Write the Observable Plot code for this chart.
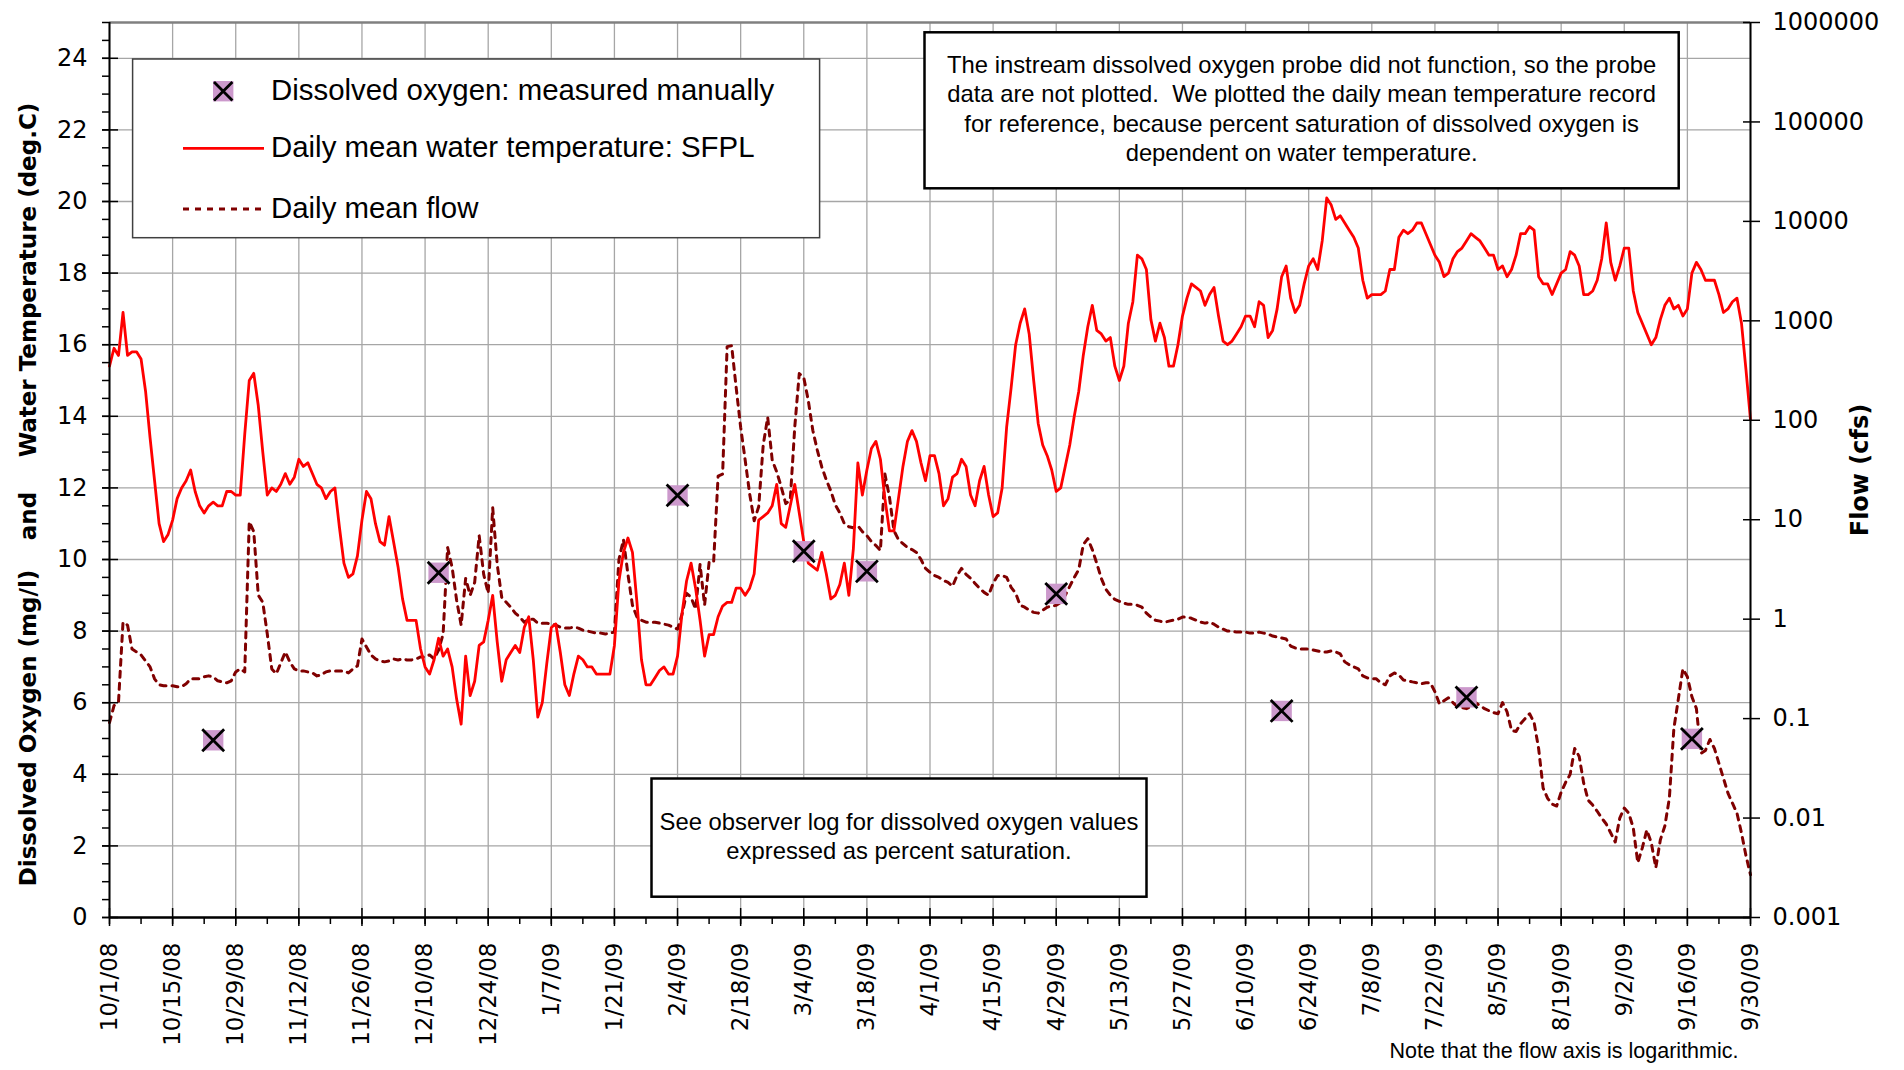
<!DOCTYPE html>
<html><head><meta charset="utf-8">
<script src="https://cdn.jsdelivr.net/npm/d3@7"></script>
<script src="https://cdn.jsdelivr.net/npm/@observablehq/plot@0.6"></script>
<style>
html,body{margin:0;padding:0;background:#fff;}
#chart{position:relative;width:1904px;height:1070px;}
</style></head><body><div id="chart"></div>
<script>
// ---------- data ----------
const startDate = "2008-10-01"; // first daily value
const temperature = [
15.4,15.9,15.7,16.9,15.7,15.8,15.8,15.6,14.7,13.4,
12.2,11.0,10.5,10.7,11.1,11.7,12.0,12.2,12.5,11.9,
11.5,11.3,11.5,11.6,11.5,11.5,11.9,11.9,11.8,11.8,
13.5,15.0,15.2,14.3,13.0,11.8,12.0,11.9,12.1,12.4,
12.1,12.3,12.8,12.6,12.7,12.4,12.1,12.0,11.7,11.9,
12.0,10.9,9.9,9.5,9.6,10.1,11.1,11.9,11.7,11.0,
10.5,10.4,11.2,10.5,9.8,8.9,8.3,8.3,8.3,7.5,
7.0,6.8,7.2,7.8,7.3,7.5,7.0,6.1,5.4,7.3,
6.2,6.6,7.6,7.7,8.3,9.0,7.7,6.6,7.2,7.4,
7.6,7.4,8.1,8.4,7.2,5.6,6.0,7.1,8.1,8.2,
7.4,6.5,6.2,6.8,7.3,7.2,7.0,7.0,6.8,6.8,
6.8,6.8,7.6,9.4,10.2,10.6,10.2,8.8,7.2,6.5,
6.5,6.7,6.9,7.0,6.8,6.8,7.3,8.5,9.4,9.9,
9.2,8.3,7.3,7.9,7.9,8.4,8.7,8.8,8.8,9.2,
9.2,9.0,9.2,9.6,11.1,11.2,11.3,11.5,12.1,11.0,
10.9,11.5,12.1,11.3,10.5,9.9,9.8,9.7,10.2,9.6,
8.9,9.0,9.3,9.9,9.0,10.3,12.7,11.8,12.5,13.1,
13.3,12.8,11.7,10.8,10.8,11.7,12.6,13.3,13.6,13.3,
12.7,12.2,12.9,12.9,12.4,11.5,11.7,12.3,12.4,12.8,
12.6,11.8,11.5,12.2,12.6,11.8,11.2,11.3,12.0,13.7,
14.8,16.0,16.6,17.0,16.3,15.0,13.8,13.2,12.9,12.5,
11.9,12.0,12.6,13.2,14.0,14.7,15.7,16.5,17.1,16.4,
16.3,16.1,16.2,15.4,15.0,15.4,16.6,17.2,18.5,18.4,
18.1,16.7,16.1,16.6,16.2,15.4,15.4,16.0,16.8,17.3,
17.7,17.6,17.5,17.1,17.4,17.6,16.8,16.1,16.0,16.1,
16.3,16.5,16.8,16.8,16.5,17.2,17.1,16.2,16.4,17.0,
17.9,18.2,17.3,16.9,17.1,17.7,18.2,18.4,18.1,18.9,
20.1,19.9,19.5,19.6,19.4,19.2,19.0,18.7,17.8,17.3,
17.4,17.4,17.4,17.5,18.1,18.1,19.0,19.2,19.1,19.2,
19.4,19.4,19.1,18.8,18.5,18.3,17.9,18.0,18.4,18.6,
18.7,18.9,19.1,19.0,18.9,18.7,18.5,18.5,18.1,18.2,
17.9,18.1,18.5,19.1,19.1,19.3,19.2,17.9,17.7,17.7,
17.4,17.7,18.0,18.1,18.6,18.5,18.2,17.4,17.4,17.5,
17.8,18.4,19.4,18.3,17.8,18.2,18.7,18.7,17.5,16.9,
16.6,16.3,16.0,16.2,16.7,17.1,17.3,17.0,17.1,16.8,
17.0,18.0,18.3,18.1,17.8,17.8,17.8,17.4,16.9,17.0,
17.2,17.3,16.6,15.3,13.9];

const flow = [
0.091,0.135,0.148,0.933,0.871,0.50,0.468,0.437,0.38,0.331,
0.251,0.219,0.214,0.214,0.214,0.209,0.209,0.224,0.251,0.251,
0.251,0.263,0.269,0.263,0.24,0.234,0.229,0.24,0.295,0.316,
0.295,9.55,7.59,1.74,1.48,0.708,0.316,0.282,0.363,0.468,
0.372,0.316,0.302,0.302,0.295,0.288,0.269,0.275,0.295,0.302,
0.302,0.302,0.302,0.288,0.316,0.339,0.631,0.525,0.437,0.398,
0.38,0.372,0.38,0.398,0.389,0.398,0.389,0.389,0.398,0.417,
0.417,0.437,0.398,0.49,0.708,5.25,3.31,1.55,0.871,2.57,
1.74,2.34,6.92,2.82,1.82,13.2,3.55,1.66,1.48,1.32,
1.15,1.05,0.933,1.0,1.0,0.912,0.912,0.912,0.891,0.871,
0.832,0.813,0.813,0.832,0.813,0.776,0.759,0.741,0.724,0.724,
0.708,0.724,0.741,3.98,6.31,2.82,1.38,1.05,0.977,0.933,
0.933,0.933,0.912,0.891,0.871,0.832,0.794,1.12,1.82,1.66,
1.26,3.55,1.38,3.72,3.72,27.5,28.8,550,562,214,
85.1,39.8,18.2,9.77,13.5,56.2,107,39.8,30.2,21.4,
14.5,15.8,85.1,295,269,158,79.4,50.1,33.9,25.1,
19.5,14.1,11.7,9.12,8.51,8.32,8.71,7.59,6.92,6.03,
5.5,4.9,28.8,17.0,7.76,6.31,5.75,5.25,5.01,4.68,
3.98,3.24,2.95,2.75,2.63,2.45,2.34,2.14,2.75,3.24,
2.82,2.57,2.29,2.04,1.86,1.74,2.29,2.75,2.75,2.63,
2.09,1.82,1.38,1.32,1.23,1.17,1.15,1.23,1.32,1.35,
1.38,1.48,1.74,2.14,2.63,3.16,5.62,6.46,5.01,3.63,
2.57,2.0,1.74,1.58,1.51,1.45,1.41,1.41,1.38,1.32,
1.15,1.05,0.977,0.955,0.933,0.955,0.977,1.0,1.05,1.05,
1.02,0.977,0.933,0.912,0.933,0.891,0.832,0.794,0.759,0.759,
0.741,0.741,0.741,0.724,0.724,0.741,0.724,0.708,0.676,0.661,
0.646,0.631,0.537,0.513,0.501,0.501,0.501,0.49,0.479,0.468,
0.468,0.479,0.468,0.447,0.372,0.347,0.331,0.316,0.269,0.257,
0.251,0.251,0.229,0.219,0.269,0.288,0.275,0.245,0.24,0.234,
0.229,0.224,0.229,0.229,0.186,0.141,0.151,0.162,0.145,0.132,
0.129,0.126,0.132,0.145,0.135,0.126,0.12,0.115,0.112,0.145,
0.117,0.0759,0.0741,0.0891,0.1,0.112,0.0912,0.0501,0.02,0.0158,
0.0138,0.0132,0.0182,0.0229,0.0275,0.0501,0.0417,0.0224,0.0151,0.0135,
0.0117,0.01,0.00871,0.00708,0.00575,0.01,0.0126,0.0112,0.00794,0.00355,
0.00501,0.00759,0.00562,0.00316,0.00603,0.00832,0.0158,0.0794,0.158,0.316,
0.263,0.166,0.126,0.0447,0.0479,0.0617,0.0501,0.0355,0.0251,0.0178,
0.0141,0.0112,0.00708,0.00417,0.00269];

const doDates  = ["2008-10-24","2008-12-13","2009-02-04","2009-03-04","2009-03-18","2009-04-29","2009-06-18","2009-07-29","2009-09-17"];
const doValues = [4.95, 9.63, 11.79, 10.23, 9.67, 9.04, 5.77, 6.15, 4.99];

const dateTickLabels = ["10/1/08","10/15/08","10/29/08","11/12/08","11/26/08","12/10/08","12/24/08",
  "1/7/09","1/21/09","2/4/09","2/18/09","3/4/09","3/18/09","4/1/09","4/15/09","4/29/09",
  "5/13/09","5/27/09","6/10/09","6/24/09","7/8/09","7/22/09","8/5/09","8/19/09","9/2/09","9/16/09","9/30/09"];
const leftTicks = [0,2,4,6,8,10,12,14,16,18,20,22,24];
const flowTicks = [0.001,0.01,0.1,1,10,100,1000,10000,100000,1000000];
const flowTickLabels = ["0.001","0.01","0.1","1","10","100","1000","10000","100000","1000000"];

// ---------- helpers ----------
const parseLabel = s => { const [m,d,y] = s.split("/").map(Number); return new Date(Date.UTC(2000+y, m-1, d)); };
const dateTicks = dateTickLabels.map(parseLabel);
const labelByTime = new Map(dateTicks.map((d,i) => [+d, dateTickLabels[i]]));
const start = new Date(startDate + "T00:00Z");
const xStart = dateTicks[0], xEnd = dateTicks[dateTicks.length-1];
const Y_MAX = 25;
const lo = Math.log10(flowTicks[0]), hi = Math.log10(flowTicks[flowTicks.length-1]);
const toY = f => (Math.log10(f) - lo) / (hi - lo) * Y_MAX;   // flow (log axis) -> left-axis units
const flowTickY = flowTicks.map(toY);
const flowLabelByY = new Map(flowTickY.map((y,i) => [y, flowTickLabels[i]]));

const tempRows = temperature.map((t,i) => ({date: d3.utcDay.offset(start, i), t}));
const flowRows = flow.map((q,i) => ({date: d3.utcDay.offset(start, i), q}));
const doRows = doDates.map((s,i) => ({date: new Date(s + "T00:00Z"), v: doValues[i]}));
const minorTicks = d3.utcDay.range(xStart, d3.utcDay.offset(xEnd, 1), 7);
const minorY = d3.range(0, 25.01, 0.5);

const gridColor = "#a6a6a6";
const titleStyle = {rotate: -90, textAnchor: "middle", fontWeight: "bold", fontFamily: "DejaVu Sans", fill: "black"};
const plot = Plot.plot({
  width: 1904, height: 1070,
  marginLeft: 109, marginRight: 154, marginTop: 22, marginBottom: 153,
  x: {type: "utc", domain: [xStart, xEnd], label: null},
  y: {domain: [0, Y_MAX], label: null},
  style: {background: "white", fontFamily: "DejaVu Sans", fontSize: "24px", overflow: "visible"},
  marks: [
    Plot.gridX(dateTicks, {stroke: gridColor, strokeOpacity: 1, strokeWidth: 1.3}),
    Plot.gridY(leftTicks, {stroke: gridColor, strokeOpacity: 1, strokeWidth: 1.3}),
    Plot.ruleY([Y_MAX], {stroke: "#808080", strokeWidth: 2.5}),
    Plot.line(flowRows, {x: "date", y: d => toY(d.q), stroke: "#800000", strokeWidth: 3, strokeDasharray: "6,6"}),
    Plot.line(tempRows, {x: "date", y: "t", stroke: "#ff0000", strokeWidth: 2.8}),
    Plot.dot(doRows, {x: "date", y: "v", symbol: "square", r: 11.5, fill: "#cc99cc", stroke: "none"}),
    Plot.dot(doRows, {x: "date", y: "v", symbol: "times", r: 10, stroke: "black", strokeWidth: 2.8}),
    Plot.ruleX([xStart], {stroke: "black", strokeWidth: 2}),
    Plot.ruleX([xEnd], {stroke: "black", strokeWidth: 2}),
    Plot.ruleY([0], {stroke: "black", strokeWidth: 2.5}),
    // left axis
    Plot.axisY(leftTicks, {anchor: "left", tickSize: 16, dx: 9, tickPadding: 15, fontSize: 24, fontFamily: "DejaVu Sans", label: null, strokeWidth: 1.5}),
    Plot.axisY(minorY, {anchor: "left", tickSize: 7, tickFormat: () => "", label: null, strokeWidth: 1.5}),
    // right (flow) axis
    Plot.axisY(flowTickY, {anchor: "right", tickSize: 17, dx: -8, tickPadding: 13, tickFormat: d => flowLabelByY.get(d), fontSize: 24, fontFamily: "DejaVu Sans", label: null, strokeWidth: 1.5}),
    // bottom axis
    Plot.axisX(dateTicks, {anchor: "bottom", tickSize: 18, dy: -9, tickPadding: 16, tickRotate: -90, tickFormat: d => labelByTime.get(+d), fontSize: 23, fontFamily: "DejaVu Sans", label: null, strokeWidth: 1.5}),
    Plot.axisX(minorTicks, {anchor: "bottom", tickSize: 7, tickFormat: () => "", label: null, strokeWidth: 1.5}),
    // axis titles
    Plot.text(["Dissolved Oxygen (mg/l)"], {frameAnchor: "left", dx: -81, dy: 258, fontSize: 23, ...titleStyle}),
    Plot.text(["and"], {frameAnchor: "left", dx: -81, dy: 46, fontSize: 23, ...titleStyle}),
    Plot.text(["Water Temperature (deg.C)"], {frameAnchor: "left", dx: -81, dy: -190, fontSize: 23, ...titleStyle}),
    Plot.text(["Flow (cfs)"], {frameAnchor: "right", dx: 110, dy: 0, fontSize: 24, ...titleStyle}),
    Plot.text(["Note that the flow axis is logarithmic."], {frameAnchor: "bottom-right", dx: -12, dy: 140, textAnchor: "end", fontSize: 21.5, fontFamily: "Liberation Sans, Arial, sans-serif", fill: "black"})
  ]
});
document.getElementById("chart").appendChild(plot);

// ---------- legend & annotation boxes ----------
const svg = d3.select(plot);
const ann = svg.append("g").attr("font-family", "Liberation Sans, Arial, sans-serif").attr("fill", "black").attr("text-anchor", "start");

// legend
ann.append("rect").attr("x", 132.6).attr("y", 59).attr("width", 687).attr("height", 178.7)
  .attr("fill", "white").attr("stroke", "#404040").attr("stroke-width", 1.5);
ann.append("rect").attr("x", 213).attr("y", 81).attr("width", 20.4).attr("height", 20.4).attr("fill", "#cc99cc");
ann.append("path").attr("d", "M214,82L232.4,100.4M214,100.4L232.4,82").attr("stroke", "black").attr("stroke-width", 2.8);
ann.append("line").attr("x1", 183).attr("x2", 264).attr("y1", 148.3).attr("y2", 148.3).attr("stroke", "#ff0000").attr("stroke-width", 2.8);
ann.append("line").attr("x1", 183).attr("x2", 264).attr("y1", 209).attr("y2", 209).attr("stroke", "#800000").attr("stroke-width", 3).attr("stroke-dasharray", "6,6");
const legendTexts = ["Dissolved oxygen: measured manually", "Daily mean water temperature: SFPL", "Daily mean flow"];
[100, 157, 218].forEach((b, i) => ann.append("text").attr("x", 271).attr("y", b).attr("text-anchor", "start").attr("font-size", 29.4).text(legendTexts[i]));

// top-right note box
ann.append("rect").attr("x", 924.5).attr("y", 32.3).attr("width", 754.2).attr("height", 156)
  .attr("fill", "white").attr("stroke", "black").attr("stroke-width", 2.5);
const noteLines = ["The instream dissolved oxygen probe did not function, so the probe",
  "data are not plotted.\u00a0 We plotted the daily mean temperature record",
  "for reference, because percent saturation of dissolved oxygen is",
  "dependent on water temperature."];
[73, 102, 131.5, 161].forEach((b, i) => ann.append("text").attr("x", 1301.6).attr("y", b).attr("text-anchor", "middle").attr("font-size", 23.8).text(noteLines[i]));

// bottom note box
ann.append("rect").attr("x", 651.5).attr("y", 778.5).attr("width", 495).attr("height", 118.2)
  .attr("fill", "white").attr("stroke", "black").attr("stroke-width", 2.5);
const logLines = ["See observer log for dissolved oxygen values", "expressed as percent saturation."];
[830, 859.3].forEach((b, i) => ann.append("text").attr("x", 899).attr("y", b).attr("text-anchor", "middle").attr("font-size", 23.8).text(logLines[i]));
</script>
</body></html>
